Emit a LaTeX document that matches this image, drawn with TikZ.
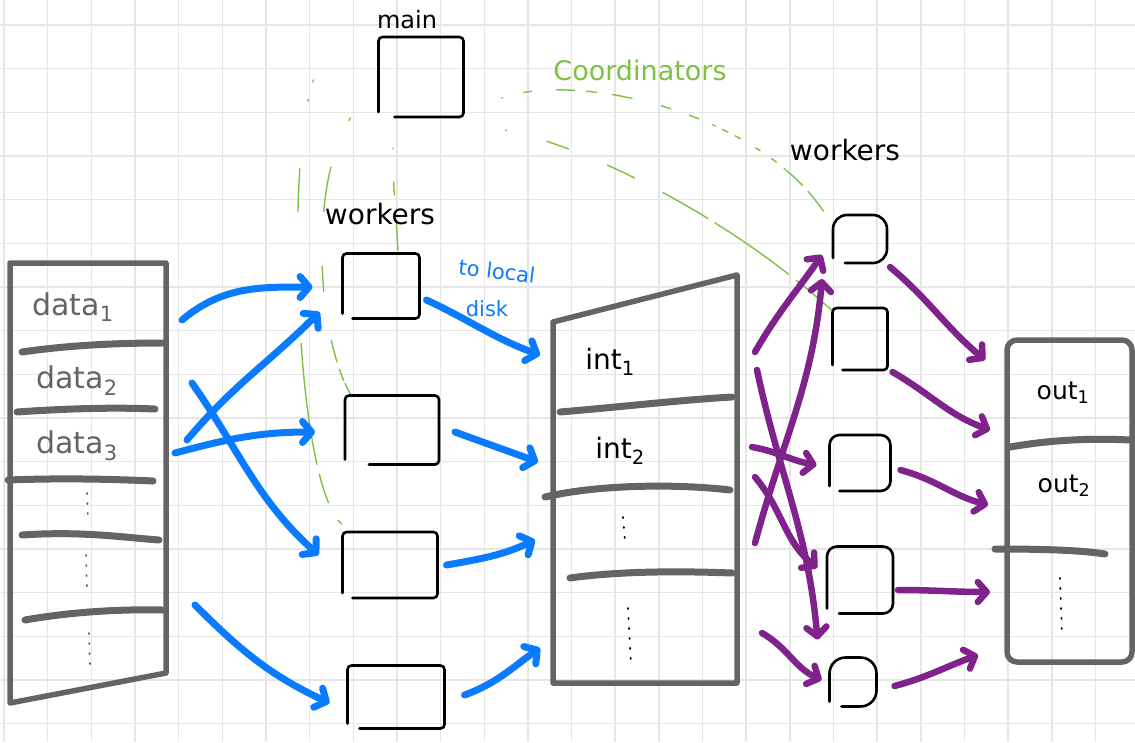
\documentclass[tikz,border=0pt]{standalone}
\usepackage{fontspec}
\setmainfont{DejaVu Sans}
\usetikzlibrary{arrows.meta,calc}

\definecolor{gridc}{HTML}{E6E6E6}
\definecolor{penblue}{HTML}{0A7BFF}
\definecolor{penpurple}{HTML}{7F228B}
\definecolor{pengreen}{HTML}{7DC243}
\definecolor{pengray}{HTML}{646464}

\tikzset{
  gridline/.style={draw=gridc, line width=1.5pt},
  box/.style={draw=none, rectangle, inner sep=0pt, outer sep=0pt},
  boxline/.style={draw=black, line width=2.6pt, line cap=round, line join=round, rounded corners=4pt},
  store/.style={draw=pengray, line width=5.5pt, line join=round, line cap=round},
  sep/.style={draw=pengray, line width=7pt, line cap=round},
  dotcol/.style={draw=pengray, line width=1.8pt, line cap=round, dash pattern=on 1pt off 9pt},
  barrow/.style={draw=penblue, line width=7pt, line cap=round, -{Straight Barb[round, length=9pt, width=21pt]}},
  parrow/.style={draw=penpurple, line width=6.5pt, line cap=round, -{Straight Barb[round, length=9pt, width=20pt]}},
  gline/.style={draw=pengreen, line width=1.4pt, line cap=round},
  lbl/.style={inner sep=0pt, font=\fontsize{28}{30}\selectfont},
}

% open-cornered sketch box round a node: [style]{node}{bottom gap}
\newcommand\handbox[3][]{%
  \draw[boxline,#1] ($(#2.south west)+(0,-5)$) -- (#2.north west) -- (#2.north east)
    -- (#2.south east) -- ($(#2.south west)+(#3,0)$);}

\begin{document}
\begin{tikzpicture}[x=1pt,y=-1pt]
\useasboundingbox (0,0) rectangle (1135,742);
\fill[white] (0,0) rectangle (1135,742);

% squared paper
\foreach \i in {0,...,25} \draw[gridline] ({4+\i*43.66},0) -- ({4+\i*43.66},742);
\foreach \j in {0,...,16} \draw[gridline] (0,{25+\j*43.66}) -- (1135,{25+\j*43.66});

% nodes
\node[box, minimum width=156pt, minimum height=440pt] (data) at (88,483) {};
\node[box, minimum width=184pt, minimum height=408pt] (int)  at (645,479) {};
\node[box, minimum width=125pt, minimum height=322pt] (out)  at (1069.5,501) {};
\node[box, minimum width=85pt, minimum height=80pt] (main) at (421,77) {};
\node[box, minimum width=77pt, minimum height=65pt] (w1) at (381,286) {};
\node[box, minimum width=94pt, minimum height=69pt] (w2) at (392,430) {};
\node[box, minimum width=95pt, minimum height=66pt] (w3) at (390,565) {};
\node[box, minimum width=97pt, minimum height=63pt] (w4) at (396,697) {};
\node[box, minimum width=54pt, minimum height=48pt] (r1) at (860,239) {};
\node[box, minimum width=55pt, minimum height=62pt] (r2) at (860,339) {};
\node[box, minimum width=61pt, minimum height=56pt] (r3) at (860,463) {};
\node[box, minimum width=66pt, minimum height=67pt] (r4) at (860,580) {};
\node[box, minimum width=47pt, minimum height=49pt] (r5) at (853,682) {};

% coordination lines from main
\draw[gline, dash pattern=on 2pt off 18pt on 2pt off 68pt on 43pt off 132pt on 122pt off 10pt on 30pt off 20pt on 40pt]
  ($(main.west)+(-65,3)$) .. controls (285,160) and (295,480) .. ($(w3.north west)+(-1,-8)$);
\draw[gline, dash pattern=on 3pt off 50pt on 45pt off 55pt on 25pt off 50pt on 22pt off 8pt on 12pt]
  ($(main.south west)+(-28,1)$) .. controls (310,180) and (315,330) .. ($(w2.north west)+(5,-2)$);
\draw[gline, dash pattern=on 1pt off 33pt on 13pt off 25pt on 25pt]
  ($(main.south)+(-28,31)$) .. controls (393,195) and (397,225) .. ($(w1.north)+(17,-3)$);
\draw[gline, dash pattern=on 1pt off 22pt on 8pt off 25pt on 18pt off 12pt on 10pt off 16pt on 20pt off 30pt on 10pt off 20pt on 10pt off 15pt on 3pt off 8pt on 6pt off 8pt on 6pt off 18pt on 5pt off 14pt on 6pt off 10pt on 2pt]
  ($(main.east)+(38,21)$) .. controls (580,70) and (770,115) .. ($(r1.north west)+(-3,7)$);
\draw[gline, dash pattern=on 1pt off 42pt on 23pt off 42pt on 30pt off 32pt on 52pt off 8pt on 90pt off 10pt on 30pt]
  ($(main.south east)+(42,13)$) .. controls (580,145) and (720,210) .. ($(r2.north west)+(-1,2)$);

% storage columns
\draw[store] (data.north west) -- (data.north east) -- ($(data.south east)+(0,-30)$) -- (data.south west) -- cycle;
\draw[sep] (22,352) .. controls (70,345) and (120,343) .. (162,343);
\draw[sep] (17,412) .. controls (60,409) and (110,407) .. (155,409);
\draw[sep] (8,480) .. controls (60,478) and (110,479) .. (153,481);
\draw[sep] (22,535) .. controls (80,531) and (120,537) .. (159,540);
\draw[sep] (25,620) .. controls (70,612) and (120,609) .. (162,610);
\draw[dotcol] (87,493) -- (88,522);
\draw[dotcol] (86,555) -- (87,590);
\draw[dotcol] (89,633) -- (90,668);

\draw[store] ($(int.north west)+(0,47)$) -- (int.north east) -- (int.south east) -- (int.south west) -- cycle;
\draw[sep] (560,412) .. controls (620,407) and (680,400) .. (732,397);
\draw[sep] (545,497) .. controls (600,484) and (680,484) .. (730,490);
\draw[sep] (570,578) .. controls (620,571) and (680,571) .. (732,573);
\draw[dotcol, draw=black] (623,517) -- (625,542);
\draw[dotcol, draw=black] (628,608) -- (631,665);

\draw[store, rounded corners=10pt] (out.north west) rectangle (out.south east);
\draw[sep] (1010,447) .. controls (1050,440) and (1090,438) .. (1130,440);
\draw[sep] (995,549) .. controls (1040,549) and (1080,550) .. (1105,554);
\draw[dotcol, draw=black] (1060,578) -- (1062,635);

% process boxes
\handbox{main}{16}
\handbox{w1}{10}
\handbox{w2}{24}
\handbox{w3}{10}
\handbox{w4}{12}
\handbox[rounded corners=14pt]{r1}{12}
\handbox{r2}{10}
\handbox[rounded corners=10pt]{r3}{10}
\handbox[rounded corners=10pt]{r4}{12}
\handbox[rounded corners=16pt]{r5}{12}

% labels
\node[lbl, font=\fontsize{24}{26}\selectfont] (lmain) at (407,20) {main};
\node[lbl] (lwl) at (380,214) {workers};
\node[lbl] (lwr) at (845,150) {workers};
\node[lbl, text=pengreen, font=\fontsize{27}{29}\selectfont] (lcoord) at (640,70) {Coordinators};
\node[lbl, text=penblue, font=\fontsize{21}{24}\selectfont, rotate=-7] (ldisk1) at (497,271) {to local};
\node[lbl, text=penblue, font=\fontsize{21}{24}\selectfont] (ldisk2) at (487,309) {disk};

\node[lbl, text=pengray, font=\fontsize{30}{32}\selectfont] (d1) at (73,307) {data\textsubscript{1}};
\node[lbl, text=pengray, font=\fontsize{30}{32}\selectfont] (d2) at (77,381) {data\textsubscript{2}};
\node[lbl, text=pengray, font=\fontsize{30}{32}\selectfont] (d3) at (77,446) {data\textsubscript{3}};
\node[lbl] (i1) at (610,362) {int\textsubscript{1}};
\node[lbl] (i2) at (620,451) {int\textsubscript{2}};
\node[lbl, font=\fontsize{25}{27}\selectfont] (o1) at (1063,393) {out\textsubscript{1}};
\node[lbl, font=\fontsize{25}{27}\selectfont] (o2) at (1064,486) {out\textsubscript{2}};

% data -> workers
\draw[barrow] ($(data.north east)+(16,57)$)  to[out=40,in=180]  ($(w1.west)+(-30,1)$);
\draw[barrow] ($(data.north east)+(21,177)$) to[out=50,in=225]  ($(w1.west)+(-23,26)$);
\draw[barrow] ($(data.north east)+(9,190)$)  to[out=15,in=180]  ($(w2.west)+(-30,2)$);
\draw[barrow] ($(data.north east)+(26,120)$) to[out=-55,in=138] ($(w3.west)+(-24,-10)$);
\draw[barrow] ($(data.north east)+(29,342)$) to[out=-45,in=155] ($(w4.west)+(-18,6)$);

% workers -> intermediate
\draw[barrow] ($(w1.east)+(7,14)$)  to[out=-25,in=160] ($(int.north west)+(-13,80)$);
\draw[barrow] ($(w2.east)+(16,2)$)  to[out=-20,in=160] ($(int.north west)+(-15,187)$);
\draw[barrow] ($(w3.east)+(9,0)$)   to[out=10,in=205]  ($(int.north west)+(-18,265)$);
\draw[barrow] ($(w4.east)+(20,-2)$) to[out=20,in=215]  ($(int.north west)+(-13,373)$);

% intermediate -> workers
\draw[parrow] ($(int.north east)+(18,77)$)  to[out=60,in=235]  ($(r1.west)+(-11,16)$);
\draw[parrow] ($(int.north east)+(20,95)$)  to[out=-78,in=95]  ($(r5.north west)+(-12,-18)$);
\draw[parrow] ($(int.north east)+(15,172)$) to[out=-10,in=170] ($(r3.west)+(-13,2)$);
\draw[parrow] ($(int.north east)+(18,268)$) to[out=75,in=-95]  ($(r1.south west)+(-11,16)$);
\draw[parrow] ($(int.north east)+(18,202)$) to[out=-50,in=140] ($(r4.west)+(-10,-12)$);
\draw[parrow] ($(int.north east)+(25,358)$) to[out=-30,in=155] ($(r5.west)+(-8,-2)$);

% workers -> output
\draw[parrow] ($(r1.south east)+(3,4)$) to[out=-40,in=140] ($(out.north west)+(-22,20)$);
\draw[parrow] ($(r2.east)+(5,33)$)      to[out=-30,in=160] ($(out.north west)+(-17,90)$);
\draw[parrow] ($(r3.east)+(10,7)$)      to[out=-15,in=165] ($(out.north west)+(-19,165)$);
\draw[parrow] ($(r4.east)+(5,10)$)      to[out=0,in=180]   ($(out.north west)+(-17,252)$);
\draw[parrow] ($(r5.east)+(18,4)$)      to[out=15,in=200]  ($(out.north west)+(-29,315)$);
\end{tikzpicture}
\end{document}
